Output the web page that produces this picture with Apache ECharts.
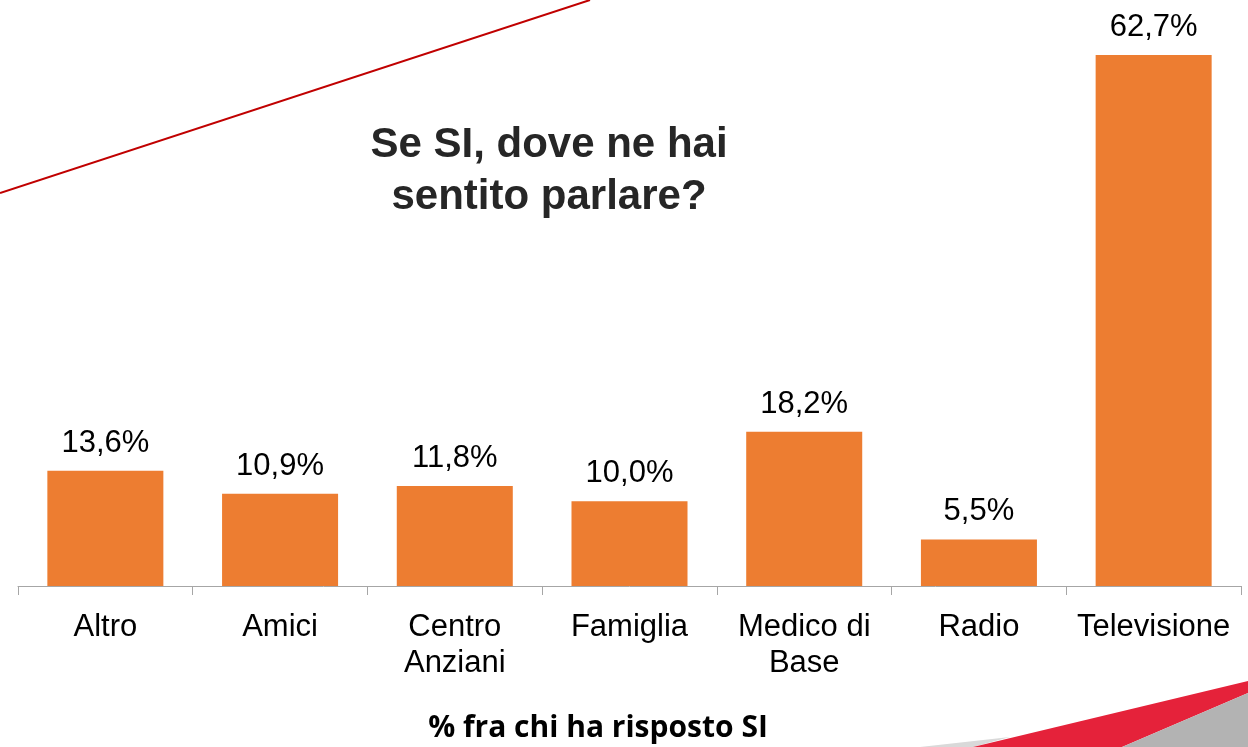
<!DOCTYPE html>
<html>
<head>
<meta charset="utf-8">
<script src="https://cdn.jsdelivr.net/npm/echarts@6/dist/echarts.min.js"></script>
<style>
html,body{margin:0;padding:0;background:#fff;}
#chart{width:1248px;height:747px;}
</style>
</head>
<body>
<div id="chart"></div>
<script>
const categories = ['Altro', 'Amici', 'Centro\nAnziani', 'Famiglia', 'Medico di\nBase', 'Radio', 'Televisione'];
const values = [13.6, 10.9, 11.8, 10.0, 18.2, 5.5, 62.7];
const titleText = 'Se SI, dove ne hai\nsentito parlare?';
const subtitleText = '% fra chi ha risposto SI';

const chart = echarts.init(document.getElementById('chart'), null, {renderer: 'canvas'});
chart.setOption({
  backgroundColor: '#ffffff',
  animation: false,
  title: [
    {
      text: titleText,
      left: 549, top: 119, padding: 0, textAlign: 'center',
      textStyle: {fontFamily: 'Liberation Sans, Arial, sans-serif', fontSize: 42, fontWeight: 'bold', color: '#262626', lineHeight: 52, align: 'center'}
    },
    {
      text: subtitleText,
      left: 598, top: 710, padding: 0, textAlign: 'center',
      textStyle: {fontFamily: 'Open Sans, sans-serif', fontSize: 30, fontWeight: 'bold', color: '#000000', lineHeight: 36}
    }
  ],
  graphic: [
    {type: 'line', shape: {x1: 0, y1: 193, x2: 590, y2: 0}, style: {stroke: '#C00000', lineWidth: 2}, silent: true},
    {type: 'polygon', shape: {points: [[920,747],[1010,737],[973,747]]}, style: {fill: '#D9D9D9'}, silent: true},
    {type: 'polygon', shape: {points: [[973,747],[1248,681],[1248,693],[1122,747]]}, style: {fill: '#E5223A'}, silent: true},
    {type: 'polygon', shape: {points: [[1122,747],[1248,693],[1248,747]]}, style: {fill: '#B3B3B3'}, silent: true}
  ],
  grid: {left: 18, right: 7, top: 55, bottom: 161, containLabel: false},
  xAxis: {
    type: 'category',
    data: categories,
    axisLine: {lineStyle: {color: '#A6A6A6', width: 1}},
    axisTick: {show: true, length: 9, lineStyle: {color: '#A6A6A6'}},
    axisLabel: {
      interval: 0, margin: 23, color: '#000000',
      fontFamily: 'Liberation Sans, Arial, sans-serif', fontSize: 31, lineHeight: 36
    }
  },
  yAxis: {
    type: 'value', min: 0, max: function (v) { return v.max; },
    show: false, splitLine: {show: false}
  },
  series: [{
    type: 'bar',
    data: values,
    barWidth: '66.4%',
    itemStyle: {color: '#ED7D31'},
    label: {
      show: true, position: 'top', distance: 12,
      fontFamily: 'Liberation Sans, Arial, sans-serif', fontSize: 31, color: '#000000',
      formatter: function (p) { return p.value.toFixed(1).replace('.', ',') + '%'; }
    }
  }]
});
</script>
</body>
</html>
